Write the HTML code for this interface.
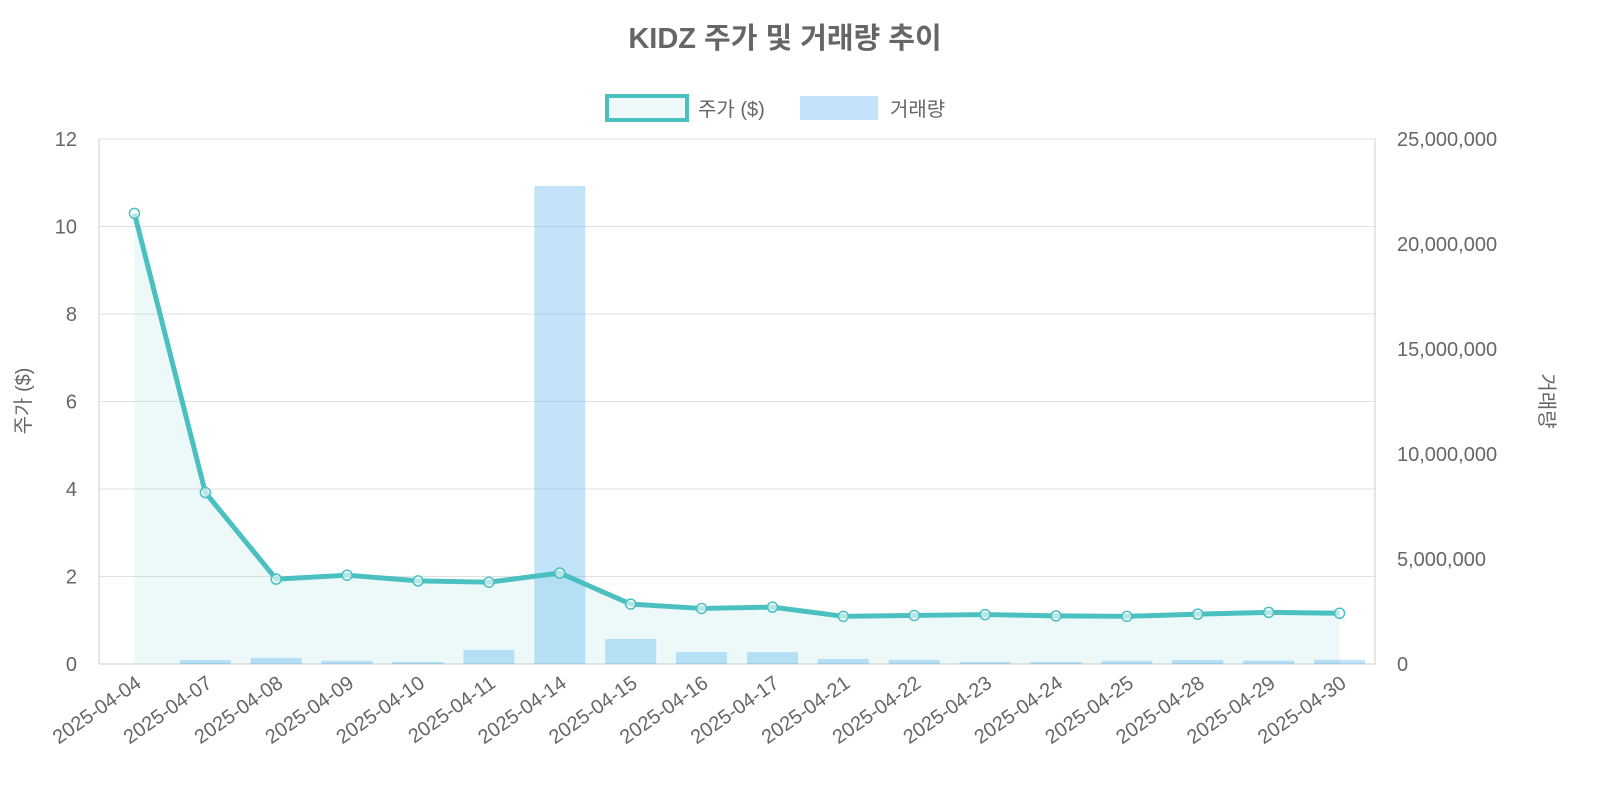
<!DOCTYPE html>
<html><head><meta charset="utf-8"><style>
html,body{margin:0;padding:0;background:#fff;overflow:hidden;width:1600px;height:800px;font-family:"Liberation Sans","Noto Sans CJK KR",sans-serif;}
svg{display:block;}
svg text{font-family:"Liberation Sans","Noto Sans CJK KR",sans-serif;}
</style></head><body>
<svg id="c" width="1600" height="800"></svg>
<script>
const categories=["2025-04-04","2025-04-07","2025-04-08","2025-04-09","2025-04-10","2025-04-11","2025-04-14","2025-04-15","2025-04-16","2025-04-17","2025-04-21","2025-04-22","2025-04-23","2025-04-24","2025-04-25","2025-04-28","2025-04-29","2025-04-30"];
const prices=[10.3,3.92,1.94,2.03,1.90,1.87,2.08,1.37,1.27,1.30,1.09,1.11,1.13,1.10,1.09,1.14,1.18,1.16];
const volumes=[0,190000,290000,150000,100000,670000,22760000,1190000,570000,560000,240000,200000,100000,100000,150000,190000,160000,200000];
const leftTicks=[0,2,4,6,8,10,12];
const rightTicks=[0,5000000,10000000,15000000,20000000,25000000];
const NS="http://www.w3.org/2000/svg",svg=document.getElementById('c');
const L=99,R=1375,T=139,B=664,bw=(R-L)/categories.length;
const x=i=>L+bw*(i+0.5), yL=v=>B-(v/12)*(B-T), yR=v=>B-(v/25000000)*(B-T);
function mk(tag,a,name,txt){const e=document.createElementNS(NS,tag);for(const k in a)e.setAttribute(k,a[k]);


if(txt!==undefined)e.textContent=txt;svg.appendChild(e);return e;}
leftTicks.forEach(t=>{mk('line',{x1:L,x2:R,y1:yL(t),y2:yL(t),stroke:'#e2e2e2'},'grid-line');
mk('text',{x:L-22,y:yL(t)+7,'text-anchor':'end','font-size':20,fill:'#666'},'y-left-tick',t);});
rightTicks.forEach(t=>mk('text',{x:R+22,y:yR(t)+7,'font-size':20,fill:'#666'},'y-right-tick',t.toLocaleString('en-US')));
mk('line',{x1:L,x2:L,y1:T,y2:B,stroke:'#ccc'},'y-left-axis');
mk('line',{x1:R,x2:R,y1:T,y2:B,stroke:'#ccc'},'y-right-axis');
mk('line',{x1:L,x2:R,y1:B,y2:B,stroke:'#ccc'},'x-axis');
let area='M'+x(0)+','+B;prices.forEach((p,i)=>area+=' L'+x(i)+','+yL(p));area+=' L'+x(prices.length-1)+','+B+' Z';
mk('path',{d:area,fill:'rgba(75,192,192,0.1)'},'price-area');
volumes.forEach((v,i)=>mk('rect',{x:x(i)-25.5,y:yR(v),width:51,height:B-yR(v),fill:'rgba(54,162,235,0.3)'},'volume-bar'));
mk('polyline',{points:prices.map((p,i)=>x(i)+','+yL(p)).join(' '),fill:'none',stroke:'#4bc0c0','stroke-width':5,'stroke-linejoin':'round'},'price-line');
prices.forEach((p,i)=>mk('circle',{cx:x(i),cy:yL(p),r:5,fill:'rgba(255,255,255,0.6)',stroke:'#4bc0c0','stroke-width':1.5},'price-point'));
categories.forEach((c,i)=>mk('text',{x:x(i)+8,y:B+22,'text-anchor':'end','font-size':20,fill:'#666',transform:`rotate(-35 ${x(i)+8} ${B+22})`},'x-tick-label',c));
mk('text',{x:785,y:48,'text-anchor':'middle','font-size':29,'font-weight':'bold',fill:'#666'},'chart-title','KIDZ 주가 및 거래량 추이');
mk('rect',{x:607,y:96,width:80,height:24,fill:'rgba(75,192,192,0.1)',stroke:'#4bc0c0','stroke-width':4},'legend-price-swatch');
mk('text',{x:698,y:116,'font-size':20,fill:'#666'},'legend-price-label','주가 ($)');
mk('rect',{x:800,y:96,width:78,height:24,fill:'rgba(54,162,235,0.3)'},'legend-volume-swatch');
mk('text',{x:890,y:116,'font-size':20,fill:'#666'},'legend-volume-label','거래량');
mk('text',{x:30,y:401,'text-anchor':'middle','font-size':20,fill:'#666',transform:'rotate(-90 30 401)'},'y-left-title','주가 ($)');
mk('text',{x:1540,y:401,'text-anchor':'middle','font-size':20,fill:'#666',transform:'rotate(90 1540 401)'},'y-right-title','거래량');
</script></body></html>
